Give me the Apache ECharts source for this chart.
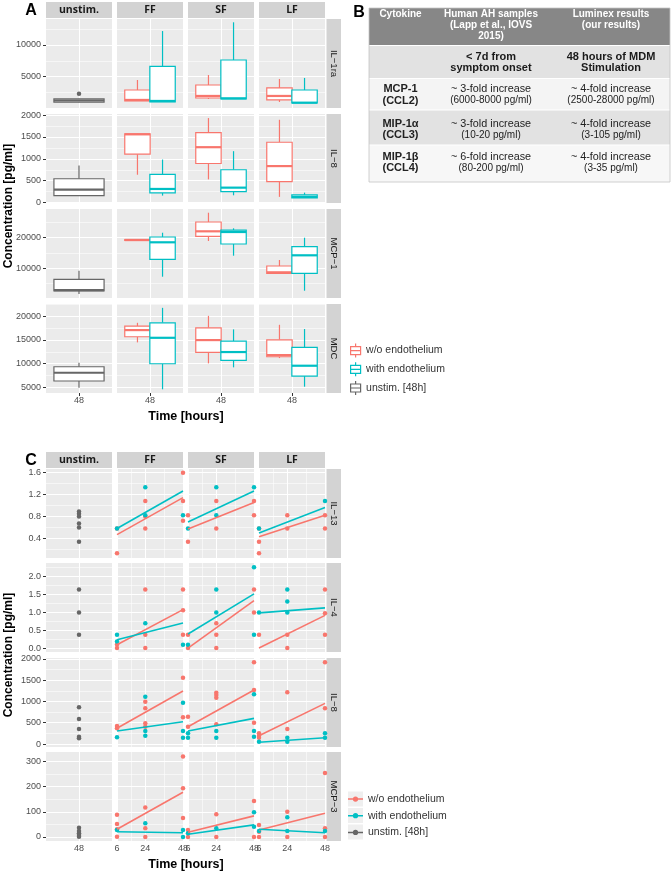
<!DOCTYPE html>
<html>
<head>
<meta charset="utf-8">
<script src="https://cdn.jsdelivr.net/npm/echarts@6/dist/echarts.min.js"></script>
<style>
html, body { margin: 0; padding: 0; background: #fff; }
#main { width: 671px; height: 874px; }
</style>
</head>
<body>
<div id="main"></div>
<script>
// facets / labels
var colNames = ['unstim.', 'FF', 'SF', 'LF'];
var rowNamesA = ['IL−1ra', 'IL−8', 'MCP−1', 'MDC'];
var rowNamesC = ['IL−13', 'IL−4', 'IL−8', 'MCP−3'];
var groupNames = ['w/o endothelium', 'with endothelium', 'unstim. [48h]'];
var timeA = ['48'];
var hoursC = [6, 24, 48];
var fitHours = [6, 48];

// y breaks per facet row
var ticksA = [[5000, 10000], [0, 500, 1000, 1500, 2000], [10000, 20000], [5000, 10000, 15000, 20000]];
var ticksC = [[0.4, 0.8, 1.2, 1.6], [0, 0.5, 1, 1.5, 2], [0, 500, 1000, 1500, 2000], [0, 100, 200, 300]];

// panel A boxplots: [min, Q1, median, Q3, max], order FF, SF, LF
var il1raUnstim = [980, 1000, 1250, 1520, 1540];
var il1raUnstimOut = [2320];
var il1raWo = [[1170, 1170, 1330, 2900, 4480], [1480, 1640, 1960, 3690, 5270], [1010, 1330, 1960, 3220, 4640]];
var il1raWith = [[1010, 1010, 1170, 6640, 12200], [1480, 1480, 1590, 7630, 13580], [850, 850, 900, 2900, 4800]];
var il8Unstim = [150, 160, 295, 545, 848];
var il8Wo = [[636, 1107, 1560, 1570, 1575], [530, 893, 1266, 1598, 1932], [130, 477, 834, 1379, 1893]];
var il8With = [[159, 220, 311, 643, 984], [166, 250, 341, 750, 1175], [107, 107, 130, 175, 227]];
var mcp1Unstim = [1600, 2580, 2900, 6400, 9220];
var mcp1Wo = [[19000, 19100, 19250, 19400, 19500], [18920, 20460, 22090, 25130, 28170], [8140, 8370, 8690, 10750, 12710]];
var mcp1With = [[7260, 12940, 18500, 20230, 21630], [14120, 17940, 21860, 22500, 23070], [2680, 8370, 14250, 17060, 20000]];
var mdcUnstim = [4920, 6330, 8080, 9350, 10190];
var mdcWo = [[14490, 15680, 17090, 17930, 18630], [10060, 12380, 14980, 17570, 20100], [11180, 11460, 11810, 15040, 18210]];
var mdcWith = [[4580, 9980, 15460, 18630, 21790], [9220, 10700, 12450, 14770, 17240], [5130, 7380, 9560, 13440, 17310]];

// panel C points [hours, value], order FF, SF, LF; fits = value at 6 h and 48 h
var il13Unstim = [0.89, 0.85, 0.80, 0.67, 0.60, 0.34];
var il13Wo = [
  [[6, 0.58], [6, 0.13], [24, 1.08], [24, 0.80], [24, 0.58], [48, 1.59], [48, 1.08], [48, 0.72]],
  [[6, 0.82], [6, 0.34], [24, 1.08], [24, 0.58], [48, 1.08], [48, 0.82]],
  [[6, 0.58], [6, 0.34], [6, 0.13], [24, 0.82], [24, 0.58], [48, 0.82], [48, 0.58]]
];
var il13With = [
  [[6, 0.58], [24, 1.33], [24, 0.82], [48, 0.82]],
  [[6, 0.58], [24, 1.33], [24, 0.82], [48, 1.33]],
  [[6, 0.58], [48, 1.08]]
];
var il13WoFit = [[0.47, 1.14], [0.57, 1.05], [0.43, 0.82]];
var il13WithFit = [[0.58, 1.26], [0.70, 1.26], [0.50, 0.96]];

var il4Unstim = [1.63, 0.99, 0.37];
var il4Wo = [
  [[6, 0.10], [6, 0], [24, 1.63], [24, 0.37], [24, 0], [48, 1.63], [48, 1.05], [48, 0.37]],
  [[6, 0.37], [6, 0], [24, 0.69], [24, 0.37], [24, 0], [48, 1.63], [48, 0.99]],
  [[6, 0.37], [24, 0.37], [24, 0], [48, 1.63], [48, 0.97], [48, 0.37]]
];
var il4With = [
  [[6, 0.37], [6, 0.18], [24, 0.69], [48, 0.09]],
  [[6, 0.09], [24, 1.63], [24, 0.99], [48, 2.25], [48, 0.37]],
  [[6, 0.99], [24, 1.63], [24, 1.30], [24, 0.99]]
];
var il4WoFit = [[0.09, 1.07], [0.0, 1.32], [0.0, 0.91]];
var il4WithFit = [[0.23, 0.70], [0.39, 1.51], [0.98, 1.12]];

var il8cUnstim = [861, 587, 352, 171, 134];
var il8cWo = [
  [[6, 423], [6, 369], [24, 993], [24, 838], [24, 486], [24, 406], [48, 1556], [48, 627]],
  [[6, 641], [6, 406], [24, 1204], [24, 1150], [24, 1087], [24, 462], [48, 1918], [48, 1268], [48, 500]],
  [[6, 251], [6, 195], [6, 148], [24, 1214], [24, 352], [48, 1918], [48, 838]]
];
var il8cWith = [
  [[6, 157], [24, 1110], [24, 305], [24, 195], [48, 969], [48, 305], [48, 148]],
  [[6, 251], [6, 148], [24, 305], [24, 148], [48, 1167], [48, 305], [48, 171]],
  [[6, 54], [24, 148], [24, 54], [48, 251], [48, 148]]
];
var il8cWoFit = [[369, 1244], [406, 1268], [195, 955]];
var il8cWithFit = [[305, 523], [305, 603], [40, 148]];

var mcp3Unstim = [37, 24, 15, 8, 1];
var mcp3Wo = [
  [[6, 88], [6, 52], [6, 31], [6, 1], [24, 117], [24, 35], [24, 0], [48, 320], [48, 194], [48, 75]],
  [[6, 28], [6, 0], [24, 90], [24, 0], [48, 143], [48, 0]],
  [[6, 48], [6, 21], [6, 0], [24, 100], [24, 0], [48, 254], [48, 35], [48, 0]]
];
var mcp3With = [
  [[6, 28], [24, 55], [48, 28], [48, 0]],
  [[6, 15], [24, 35], [48, 98], [48, 41]],
  [[6, 24], [24, 78], [24, 24], [48, 24]]
];
var mcp3WoFit = [[31, 178], [19, 84], [28, 94]];
var mcp3WithFit = [[21, 17], [11, 48], [31, 17]];

// panel B table text
var tableHead = [['Cytokine'], ['Human AH samples', '(Lapp et al., IOVS', '2015)'], ['Luminex results', '(our results)']];
var tableSub = [[], ['< 7d from', 'symptom onset'], ['48 hours of MDM', 'Stimulation']];
var tableRows = [
  [['MCP-1', '(CCL2)'], ['~ 3-fold increase', '(6000-8000 pg/ml)'], ['~ 4-fold increase', '(2500-28000 pg/ml)']],
  [['MIP-1α', '(CCL3)'], ['~ 3-fold increase', '(10-20 pg/ml)'], ['~ 4-fold increase', '(3-105 pg/ml)']],
  [['MIP-1β', '(CCL4)'], ['~ 6-fold increase', '(80-200 pg/ml)'], ['~ 4-fold increase', '(3-35 pg/ml)']]
];

// ---- layout / style ----
var RED = '#F8766D', CYAN = '#00BFC4', GREY = '#666666';
var FONT = '"Liberation Sans", Arial, sans-serif';
var colLeft = [46, 117, 188, 259], colWidth = 66, rowHeight = 89;
var rowTopA = [19, 114, 209, 304], rowTopC = [469, 563, 658, 752];
var yRangeA = [[60, 14100], [-10, 2025], [300, 29380], [3800, 22600]];
var yRangeC = [[0.045, 1.66], [-0.11, 2.37], [-70, 2020], [-16, 338]];
var decimalsC = [1, 1, 0, 0];
var minorHoursC = hoursC.slice(1).map(function (h, i) { return (h + hoursC[i]) / 2; });

var unstimA = [il1raUnstim, il8Unstim, mcp1Unstim, mdcUnstim];
var woA = [il1raWo, il8Wo, mcp1Wo, mdcWo];
var withA = [il1raWith, il8With, mcp1With, mdcWith];
var unstimC = [il13Unstim, il4Unstim, il8cUnstim, mcp3Unstim];
var woC = [il13Wo, il4Wo, il8cWo, mcp3Wo];
var withC = [il13With, il4With, il8cWith, mcp3With];
var woFitC = [il13WoFit, il4WoFit, il8cWoFit, mcp3WoFit];
var withFitC = [il13WithFit, il4WithFit, il8cWithFit, mcp3WithFit];

var grids = [], xAxes = [], yAxes = [], series = [], gfx = [];
var AX_TEXT = { fontSize: 9, color: '#4D4D4D', fontFamily: FONT };

function minorBreaks(ticks, range) {
  var step = ticks[1] - ticks[0], out = [];
  for (var v = ticks[0] - step / 2; v < range[1]; v += step) {
    if (v > range[0]) out.push(+v.toFixed(6));
  }
  return out;
}

function gridLines(gi, yMajor, yMinor, xMajor, xMinor) {
  function ln(key, v, w) {
    var o = { lineStyle: { color: '#FFFFFF', width: w, type: 'solid' } };
    o[key] = v;
    return o;
  }
  var data = [].concat(
    yMinor.map(function (v) { return ln('yAxis', v, 0.55); }),
    xMinor.map(function (v) { return ln('xAxis', v, 0.55); }),
    yMajor.map(function (v) { return ln('yAxis', v, 1.1); }),
    xMajor.map(function (v) { return ln('xAxis', v, 1.1); })
  );
  series.push({
    type: 'line', xAxisIndex: gi, yAxisIndex: gi, data: [], silent: true,
    markLine: { silent: true, z: 1, animation: false, precision: 6, symbol: ['none', 'none'],
      label: { show: false }, emphasis: { disabled: true }, data: data }
  });
}

function addCell(top, c, bottomRow, yRange, yTicks, fmt, xCat) {
  var gi = grids.length;
  grids.push({ left: colLeft[c], top: top, width: colWidth, height: rowHeight, show: true,
    backgroundColor: '#EBEBEB', borderWidth: 0 });
  var xa = xCat ? { type: 'category', data: xCat, boundaryGap: true }
                : { type: 'value', min: hoursC[0], max: hoursC[hoursC.length - 1] };
  xa.gridIndex = gi;
  xa.axisLine = { show: false };
  xa.splitLine = { show: false };
  xa.axisTick = { show: bottomRow, length: 3, alignWithLabel: true, lineStyle: { color: '#333', width: 1 } };
  xa.axisLabel = Object.assign({ show: bottomRow, margin: 3 }, AX_TEXT);
  if (!xCat) { xa.axisTick.customValues = hoursC; xa.axisLabel.customValues = hoursC; }
  xAxes.push(xa);
  yAxes.push({ type: 'value', gridIndex: gi, min: yRange[0], max: yRange[1],
    axisLine: { show: false }, splitLine: { show: false },
    axisTick: { show: c === 0, length: 3, customValues: yTicks, lineStyle: { color: '#333', width: 1 } },
    axisLabel: Object.assign({ show: c === 0, margin: 5, customValues: yTicks, formatter: fmt }, AX_TEXT) });
  gridLines(gi, yTicks, minorBreaks(yTicks, yRange), xCat ? [0] : hoursC, xCat ? [] : minorHoursC);
  return gi;
}

function boxSeries(gi, name, color, stats, offset, width) {
  return {
    type: 'custom', name: name, xAxisIndex: gi, yAxisIndex: gi, z: 3, silent: true,
    data: stats.map(function (s) { return [0].concat(s); }),
    renderItem: function (params, api) {
      var band = api.size([1, 0])[0];
      var cx = api.coord([api.value(0), api.value(3)])[0] + offset * band;
      var hw = width * band / 2;
      var y = [1, 2, 3, 4, 5].map(function (i) { return api.coord([api.value(0), api.value(i)])[1]; });
      var st = { stroke: color, lineWidth: 1.2, fill: null };
      return { type: 'group', children: [
        { type: 'line', shape: { x1: cx, y1: y[4], x2: cx, y2: y[3] }, style: st },
        { type: 'line', shape: { x1: cx, y1: y[1], x2: cx, y2: y[0] }, style: st },
        { type: 'rect', shape: { x: cx - hw, y: y[3], width: 2 * hw, height: Math.max(y[1] - y[3], 0.5) },
          style: { fill: '#FFFFFF', stroke: color, lineWidth: 1.2 } },
        { type: 'line', shape: { x1: cx - hw, y1: y[2], x2: cx + hw, y2: y[2] }, style: { stroke: color, lineWidth: 2.2 } }
      ] };
    }
  };
}

function pointSeries(gi, name, color, pts) {
  return { type: 'scatter', name: name, xAxisIndex: gi, yAxisIndex: gi, data: pts, symbol: 'circle',
    symbolSize: 4.5, itemStyle: { color: color, opacity: 1 }, z: 3, silent: true };
}

function fitSeries(gi, name, color, fit) {
  return { type: 'line', name: name, xAxisIndex: gi, yAxisIndex: gi,
    data: fitHours.map(function (h, i) { return [h, fit[i]]; }), symbol: 'none',
    lineStyle: { color: color, width: 1.6 }, itemStyle: { color: color }, z: 4, silent: true };
}

// ---- panel A ----
rowTopA.forEach(function (top, r) {
  var fmt = function (v) { return String(v); };
  for (var c = 0; c < 4; c++) {
    var gi = addCell(top, c, r === 3, yRangeA[r], ticksA[r], fmt, timeA);
    if (c === 0) {
      series.push(boxSeries(gi, groupNames[2], GREY, [unstimA[r]], 0, 0.76));
      if (r === 0) {
        series.push(pointSeries(gi, groupNames[2], GREY, il1raUnstimOut.map(function (v) { return [0, v]; })));
      }
    } else {
      series.push(boxSeries(gi, groupNames[0], RED, [woA[r][c - 1]], -0.19, 0.385));
      series.push(boxSeries(gi, groupNames[1], CYAN, [withA[r][c - 1]], 0.19, 0.385));
    }
  }
});

// ---- panel C ----
rowTopC.forEach(function (top, r) {
  var d = decimalsC[r];
  var fmt = function (v) { return v.toFixed(d); };
  for (var c = 0; c < 4; c++) {
    var gi = addCell(top, c, r === 3, yRangeC[r], ticksC[r], fmt, c === 0 ? timeA : null);
    if (c === 0) {
      series.push(pointSeries(gi, groupNames[2], GREY, unstimC[r].map(function (v) { return [0, v]; })));
    } else {
      series.push(pointSeries(gi, groupNames[0], RED, woC[r][c - 1]));
      series.push(pointSeries(gi, groupNames[1], CYAN, withC[r][c - 1]));
      series.push(fitSeries(gi, groupNames[0], RED, woFitC[r][c - 1]));
      series.push(fitSeries(gi, groupNames[1], CYAN, withFitC[r][c - 1]));
    }
  }
});

// ---- strips, titles ----
function txt(x, y, s, font, color, extra) {
  return Object.assign({ type: 'text', x: x, y: y, silent: true,
    style: { text: s, font: font, fill: color || '#000', textAlign: 'center', textVerticalAlign: 'middle',
      align: 'center', verticalAlign: 'middle' } }, extra || {});
}
function rect(x, y, w, h, fill, extra) {
  return Object.assign({ type: 'rect', silent: true, shape: { x: x, y: y, width: w, height: h },
    style: { fill: fill } }, extra || {});
}

[[2, rowTopA, rowNamesA], [452, rowTopC, rowNamesC]].forEach(function (p) {
  colNames.forEach(function (n, c) {
    gfx.push(rect(colLeft[c], p[0], colWidth, 16, '#D3D3D3'));
    gfx.push(txt(colLeft[c] + colWidth / 2, p[0] + 8.5, n, 'bold 10.5px "Open Sans", sans-serif', '#1A1A1A'));
  });
  p[1].forEach(function (top, r) {
    gfx.push(rect(326.5, top, 14.5, rowHeight, '#D3D3D3'));
    gfx.push(txt(334, top + rowHeight / 2, p[2][r], '9.5px ' + FONT, '#1A1A1A', { rotation: -Math.PI / 2 }));
  });
});

gfx.push(txt(31, 11, 'A', 'bold 16px ' + FONT, '#000'));
gfx.push(txt(359, 13, 'B', 'bold 16px ' + FONT, '#000'));
gfx.push(txt(31, 461, 'C', 'bold 16px ' + FONT, '#000'));
gfx.push(txt(9, 206, 'Concentration [pg/ml]', 'bold 12px ' + FONT, '#000', { rotation: Math.PI / 2 }));
gfx.push(txt(9, 655, 'Concentration [pg/ml]', 'bold 12px ' + FONT, '#000', { rotation: Math.PI / 2 }));
gfx.push(txt(186, 417, 'Time [hours]', 'bold 12.5px ' + FONT, '#000'));
gfx.push(txt(186, 865, 'Time [hours]', 'bold 12.5px ' + FONT, '#000'));

// legend C key backgrounds
[791.5, 808, 824.5].forEach(function (y) { gfx.push(rect(348, y, 15, 15, '#EFEFEF')); });

// ---- panel B table ----
var tX = [369, 432, 550, 670];
var tY = [8, 45.5, 78.5, 110, 145, 182];
var tFill = ['#878787', '#E2E2E2', '#F4F4F4', '#E2E2E2', '#F7F7F7'];
var tCx = [400.5, 491, 611];
tFill.forEach(function (f, i) {
  gfx.push(rect(tX[0], tY[i], tX[3] - tX[0], tY[i + 1] - tY[i], f));
  if (i > 0) gfx.push(rect(tX[0], tY[i] - 0.5, tX[3] - tX[0], 1, '#FFFFFF'));
});
gfx.push({ type: 'rect', silent: true, shape: { x: tX[0], y: tY[0], width: tX[3] - tX[0], height: tY[5] - tY[0] },
  style: { fill: null, stroke: '#C4C4C4', lineWidth: 0.8 } });
tableHead.forEach(function (lines, c) {
  lines.forEach(function (s, k) {
    gfx.push(txt(tCx[c], 14 + 11 * k, s, 'bold 10px ' + FONT, '#FFFFFF'));
  });
});
tableSub.forEach(function (lines, c) {
  lines.forEach(function (s, k) {
    gfx.push(txt(tCx[c], 56.5 + 11.7 * k, s, 'bold 11px ' + FONT, '#1A1A1A'));
  });
});
var rowCenters = [95, 129.5, 162.5];
tableRows.forEach(function (row, r) {
  row.forEach(function (lines, c) {
    lines.forEach(function (s, k) {
      var font = c === 0 ? 'bold 11px ' + FONT : (k === 0 ? '10.8px ' : '10px ') + FONT;
      gfx.push(txt(tCx[c], rowCenters[r] - 5.7 + 11.2 * k, s, font, '#222222'));
    });
  });
});

// ---- legends ----
var BOX_ICON = 'path://M5,0 L5,3 M0,3 L10,3 L10,11 L0,11 Z M0,7 L10,7 M5,11 L5,14';
var LINE_ICON = 'path://M0,2 L16,2 L16,3.6 L0,3.6 Z M8,0 A2.8,2.8 0 1 1 8,5.6 A2.8,2.8 0 1 1 8,0 Z';
var COLORS = [RED, CYAN, GREY];

var myChart = echarts.init(document.getElementById('main'));
var option = {
  backgroundColor: '#FFFFFF',
  animation: false,
  textStyle: { fontFamily: FONT },
  grid: grids,
  xAxis: xAxes,
  yAxis: yAxes,
  legend: [
    { orient: 'vertical', left: 350, top: 343, padding: 0, itemWidth: 11, itemHeight: 14, itemGap: 3.5,
      selectedMode: false, textStyle: { fontSize: 10.5, color: '#333', fontFamily: FONT, lineHeight: 14 },
      data: groupNames.map(function (n, i) {
        return { name: n, icon: BOX_ICON, itemStyle: { color: 'rgba(0,0,0,0)', borderColor: COLORS[i], borderWidth: 1.2 } };
      }) },
    { orient: 'vertical', left: 348, top: 792, padding: 0, itemWidth: 15, itemHeight: 5.25, itemGap: 2.7,
      selectedMode: false, textStyle: { fontSize: 10.5, color: '#333', fontFamily: FONT, lineHeight: 14 },
      data: groupNames.map(function (n, i) {
        return { name: n, icon: LINE_ICON, itemStyle: { color: COLORS[i], borderWidth: 0 } };
      }) }
  ],
  graphic: { elements: gfx },
  series: series
};
myChart.setOption(option);
</script>
</body>
</html>
